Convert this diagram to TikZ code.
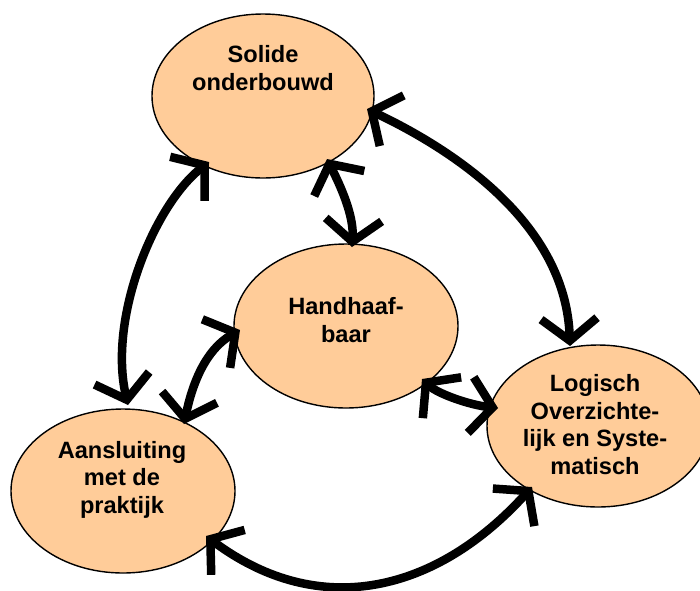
\documentclass[tikz,border=0pt]{standalone}
\usepackage{fontspec}
\setmainfont{Liberation Sans}
\usetikzlibrary{shapes.geometric,arrows.meta}
\definecolor{peach}{HTML}{FFCC99}
\tikzset{
  blob/.style={ellipse, draw=black, line width=1.4pt, fill=peach, inner sep=0pt,
    minimum width=224pt, minimum height=164pt},
  lbl/.style={anchor=base, align=center, inner sep=0pt,
    font=\fontsize{23.6pt}{27.5pt}\selectfont\bfseries},
  arr/.style={line width=8.5pt,
    {Straight Barb[sharp,length=22pt,width=56pt]}-{Straight Barb[sharp,length=22pt,width=56pt]}}
}
\begin{document}
\begin{tikzpicture}[x=1pt,y=-1pt]
\useasboundingbox (0,0) rectangle (700,590);
\clip (0,0) rectangle (700,590);
% ellipses
\node[blob, minimum width=222pt] (s) at (263,96) {};
\node[blob] (h) at (346,326) {};
\node[blob] (a) at (123,491) {};
\node[blob, minimum width=222pt, minimum height=162pt] (l) at (598,426) {};
% texts (anchor = baseline of the last line)
\node[lbl] (ts) at (263,90) {Solide\\onderbouwd};
\node[lbl] (th) at (346,342) {Handhaaf-\\baar};
\node[lbl] (ta) at (122,513) {Aansluiting\\met de\\praktijk};
\node[lbl] (tl) at (595,474) {Logisch\\Overzichte-\\lijk en Syste-\\matisch};
% connectors
\draw[arr] ([shift={(-54,66)}]s.center) .. controls (154,205) and (108,318) .. ([shift={(5,-86)}]a.center);
\draw[arr] ([shift={(104,13)}]s.center) .. controls (466,156) and (566,230) .. ([shift={(-28,-80)}]l.center);
\draw[arr] ([shift={(64,63)}]s.center) .. controls (340,185) and (354,215) .. ([shift={(6,-79)}]h.center);
\draw[arr] ([shift={(-106,4)}]h.center) .. controls (205,350) and (192,385) .. ([shift={(61,-67)}]a.center);
\draw[arr] ([shift={(76,53)}]h.center) .. controls (438,394) and (470,405) .. ([shift={(-100,-18)}]l.center);
\draw[arr] ([shift={(83,45)}]a.center) .. controls (320,621) and (437,592) .. ([shift={(-66,61)}]l.center);
\end{tikzpicture}
\end{document}
